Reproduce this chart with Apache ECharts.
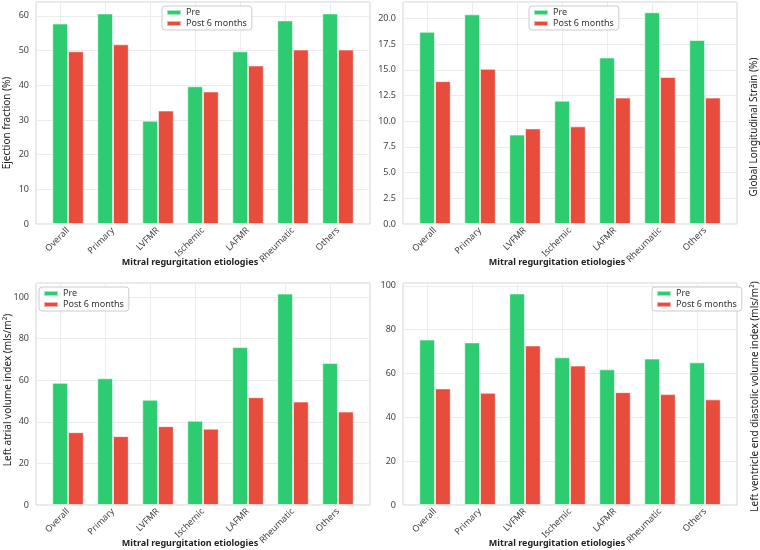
<!DOCTYPE html>
<html>
<head>
<meta charset="utf-8">
<script src="https://cdn.jsdelivr.net/npm/echarts@6/dist/echarts.min.js"></script>
<style>
html, body { margin: 0; padding: 0; background: #fff; }
#myChart { width: 760px; height: 550px; }
</style>
</head>
<body>
<div id="myChart"></div>
<script>
// categories and values
const categories = ["Overall", "Primary", "LVFMR", "Ischemic", "LAFMR", "Rheumatic", "Others"];
const seriesNames = ["Pre", "Post 6 months"];

const efPre = [57.8, 60.7, 29.8, 39.7, 49.8, 58.7, 60.7];
const efPost = [49.8, 51.8, 32.7, 38.2, 45.7, 50.3, 50.3];

const glsPre = [18.7, 20.4, 8.7, 12.0, 16.2, 20.6, 17.9];
const glsPost = [13.9, 15.1, 9.3, 9.5, 12.3, 14.3, 12.3];

const laviPre = [58.7, 60.9, 50.6, 40.5, 75.9, 101.6, 68.3];
const laviPost = [35.0, 33.1, 37.9, 36.7, 51.8, 49.7, 44.9];

const lvediPre = [75.5, 74.2, 96.5, 67.4, 61.9, 66.8, 65.1];
const lvediPost = [53.2, 51.2, 72.8, 63.6, 51.5, 50.6, 48.2];

const xTitle = "Mitral regurgitation etiologies";

var font = "Noto Sans";
var colors = ["#2ecc71", "#e74c3c"];

// one entry per subplot: frame box [left, top, width, height] in px
var panels = [
  { box: [36, 2, 334, 222], pre: efPre, post: efPost, max: 64, interval: 10, digits: 0,
    yName: "Ejection fraction (%)", side: "left", nameGap: 24, namePad: [0, 20, 0, 0],
    legend: { left: 162, top: 6 } },
  { box: [403, 2, 334, 222], pre: glsPre, post: glsPost, max: 21.6, interval: 2.5, digits: 1,
    yName: "Global Longitudinal Strain (%)", side: "right", nameGap: 12, namePad: [0, 28, 0, 0],
    legend: { left: 529, top: 6 } },
  { box: [36, 283, 334, 222], pre: laviPre, post: laviPost, max: 106.7, interval: 20, digits: 0,
    yName: "Left atrial volume index (mls/m²)", side: "left", nameGap: 23, namePad: [0, 0, 0, 8],
    legend: { left: 39, top: 287 } },
  { box: [403, 283, 334, 222], pre: lvediPre, post: lvediPost, max: 101.3, interval: 20, digits: 0,
    yName: "Left ventricle end diastolic volume index (mls/m²)", side: "right", nameGap: 13, namePad: [0, 5, 0, 0],
    legend: { left: 652, top: 287 } }
];

var grid = [], xAxis = [], yAxis = [], series = [], legend = [];

panels.forEach(function (p) {
  var b = p.box;
  var frameIdx = grid.length;
  // outer frame: border, y ticks, horizontal grid lines
  grid.push({ left: b[0], top: b[1], width: b[2], height: b[3], show: true, outerBoundsMode: "none",
    borderColor: "#d4d4d4", borderWidth: 1, backgroundColor: "transparent" });
  // inner grid for the bars (matplotlib keeps a 5% margin on each side)
  grid.push({ left: b[0] + 9.5, top: b[1], width: b[2] - 19, height: b[3], outerBoundsMode: "none" });

  xAxis.push({ gridIndex: frameIdx, type: "value", min: 0, max: 1, show: false });
  var xIdx = xAxis.length;
  xAxis.push({
    gridIndex: frameIdx + 1,
    type: "category",
    data: categories,
    axisLine: { show: false },
    axisTick: { show: false },
    splitLine: { show: false },
    axisLabel: { rotate: 45, fontSize: 9, color: "#444", margin: 5, fontFamily: font },
    name: xTitle,
    nameLocation: "middle",
    nameGap: 34,
    nameMoveOverlap: false,
    nameTextStyle: { fontSize: 9, fontWeight: "bold", color: "#222", fontFamily: font, padding: [0, 26, 0, 0] }
  });

  var yName = {
    name: p.yName,
    nameLocation: "middle",
    nameRotate: 90,
    nameGap: p.nameGap,
    nameMoveOverlap: false,
    nameTextStyle: { fontSize: 10, color: "#222", fontFamily: font, padding: p.namePad }
  };

  var frameY = {
    gridIndex: frameIdx,
    type: "value",
    min: 0,
    max: p.max,
    interval: p.interval,
    axisLine: { show: false },
    axisTick: { show: false },
    splitLine: { show: true, lineStyle: { color: "#ececec", width: 1 } },
    axisLabel: {
      fontSize: 9, color: "#444", margin: 7, fontFamily: font, showMaxLabel: false,
      formatter: function (v) { return v.toFixed(p.digits); }
    }
  };
  if (p.side === "left") Object.assign(frameY, yName);
  yAxis.push(frameY);
  if (p.side === "right") {
    yAxis.push(Object.assign({
      gridIndex: frameIdx, type: "value", position: "right", min: 0, max: p.max,
      axisLine: { show: false }, axisTick: { show: false },
      axisLabel: { show: false }, splitLine: { show: false }
    }, yName));
  }
  var yIdx = yAxis.length;
  yAxis.push({ gridIndex: frameIdx + 1, type: "value", min: 0, max: p.max, show: false });

  [p.pre, p.post].forEach(function (vals, k) {
    var s = {
      name: seriesNames[k],
      type: "bar",
      xAxisIndex: xIdx,
      yAxisIndex: yIdx,
      data: vals,
      barWidth: "35%",
      barGap: "0%",
      z: 2,
      itemStyle: { color: colors[k], borderColor: "rgba(255,255,255,0.55)", borderWidth: 1 }
    };
    if (k === 0) {
      // vertical grid lines at each category
      s.markLine = {
        silent: true,
        symbol: "none",
        z: 1,
        label: { show: false },
        lineStyle: { color: "#ececec", width: 1, type: "solid" },
        data: categories.map(function (c) { return { xAxis: c }; })
      };
    }
    series.push(s);
  });

  legend.push({
    data: seriesNames,
    left: p.legend.left,
    top: p.legend.top,
    orient: "vertical",
    icon: "rect",
    itemWidth: 14,
    itemHeight: 5,
    itemGap: 2,
    padding: [2, 5, 2, 4],
    selectedMode: false,
    backgroundColor: "rgba(255,255,255,0.85)",
    borderColor: "#cccccc",
    borderWidth: 1,
    borderRadius: 3,
    textStyle: { fontSize: 9, color: "#333", fontFamily: font }
  });
});

var myChart = echarts.init(document.getElementById("myChart"));
var option = {
  animation: false,
  color: colors,
  textStyle: { fontFamily: font },
  grid: grid,
  xAxis: xAxis,
  yAxis: yAxis,
  legend: legend,
  series: series
};
myChart.setOption(option);
</script>
</body>
</html>
